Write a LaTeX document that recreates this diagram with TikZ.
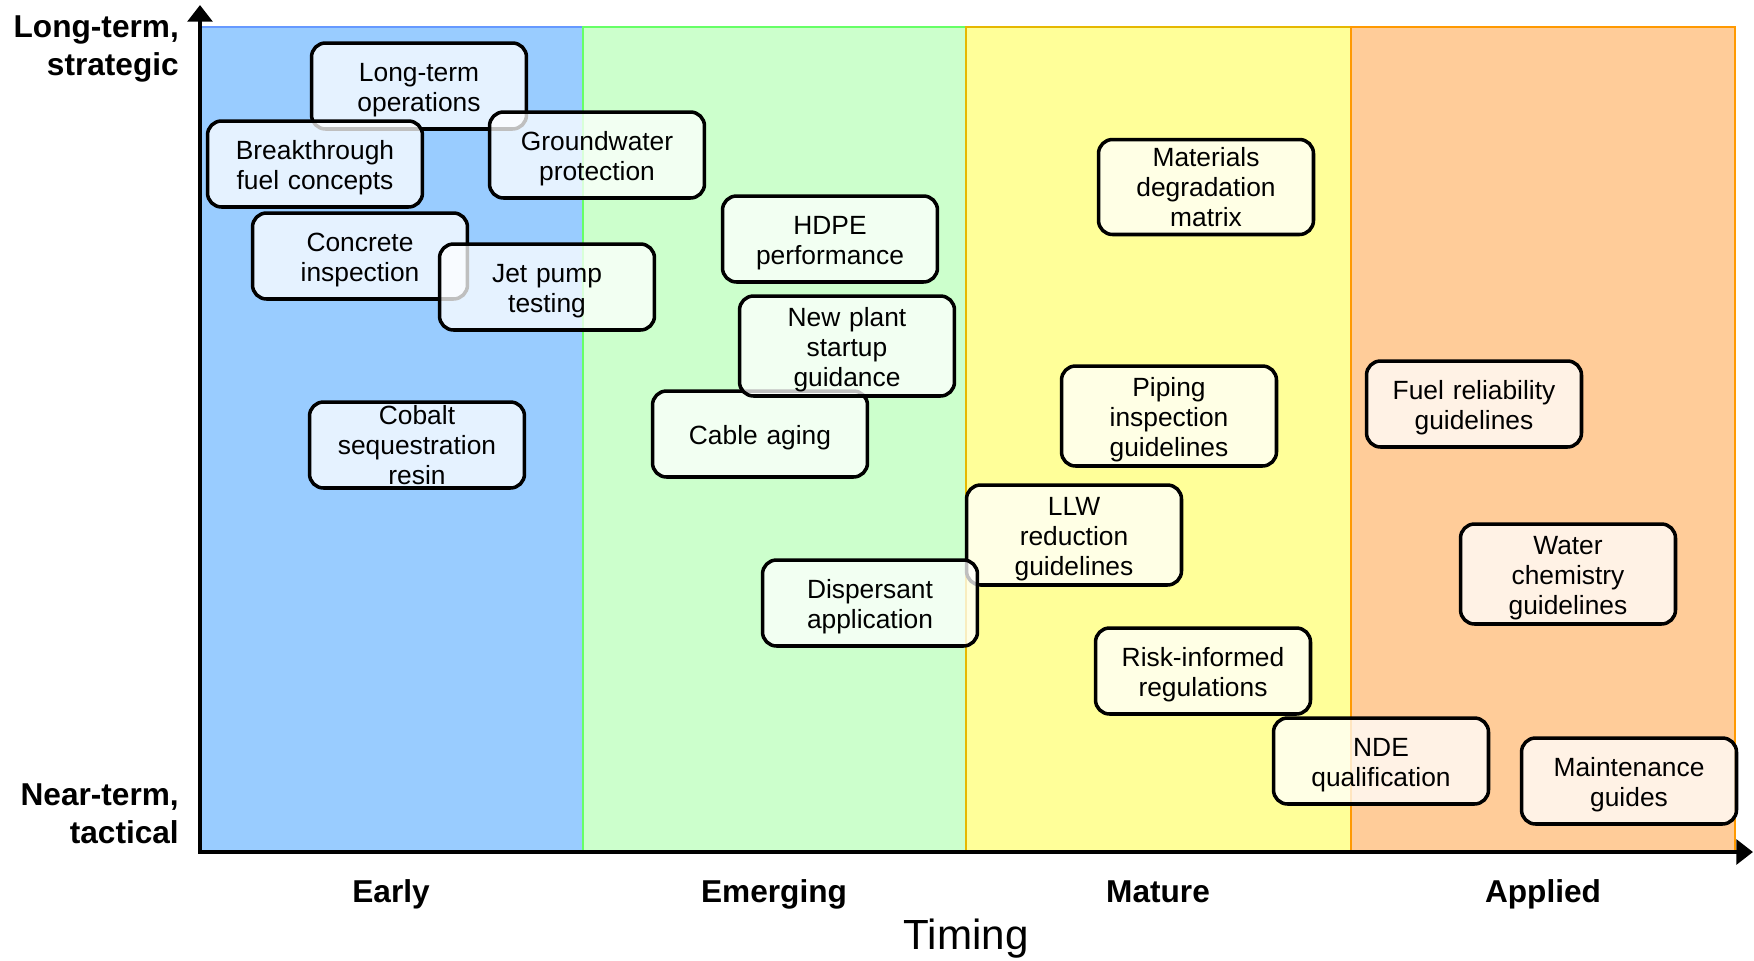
\documentclass[tikz,border=0pt]{standalone}
\usepackage{fontspec}
\setmainfont{Liberation Sans}
\usepackage{tikz}
\usetikzlibrary{arrows.meta}

\definecolor{earlyfill}{HTML}{99CCFF}
\definecolor{earlyline}{HTML}{6699FF}
\definecolor{emergfill}{HTML}{CCFFCC}
\definecolor{emergline}{HTML}{66FF66}
\definecolor{maturefill}{HTML}{FFFF99}
\definecolor{matureline}{HTML}{E6B800}
\definecolor{applfill}{HTML}{FFCC99}
\definecolor{applline}{HTML}{FF9900}

\begin{document}
\begin{tikzpicture}[x=0.02cm,y=-0.02cm,
  cardbase/.style={draw,line width=2pt,rounded corners=0.28cm,fill=white,fill opacity=0.75,
    text opacity=1,minimum width=4.3cm,minimum height=1.72cm,text width=4.2cm,
    align=center,inner sep=0pt,font=\fontsize{15}{17}\selectfont},
  item/.style={cardbase,execute at begin node={\rule{0pt}{15pt}}},
  tallitem/.style={item,minimum height=2cm},
  packeditem/.style={cardbase},
  axislabel/.style={font=\bfseries\fontsize{18}{21.5}\selectfont,align=right,anchor=east},
  phase/.style={font=\bfseries\fontsize{18}{21.5}\selectfont,anchor=base}]

  \useasboundingbox (0,0) rectangle (1754,960);

  % phase bands
  \draw [line width=1pt,draw=earlyline,fill=earlyfill] (200,27) rectangle (583,852);
  \draw [line width=1pt,draw=emergline,fill=emergfill] (583,27) rectangle (966,852);
  \draw [line width=1pt,draw=matureline,fill=maturefill] (966,27) rectangle (1351,852);
  \draw [line width=1pt,draw=applline,fill=applfill] (1351,27) rectangle (1735,852);

  % axes
  \coordinate (origin) at (200,852);
  \coordinate (ytop) at (200,5);
  \coordinate (xend) at (1753,852);
  \draw [line width=2.8pt,line join=miter,{Triangle[length=9.5pt,width=14pt]}-{Triangle[length=9.5pt,width=14pt]}] (ytop) -- (origin) -- (xend);

  \node [axislabel] (strategic) at (185,49) {Long-term,\\strategic};
  \node [axislabel] (tactical) at (185,814) {Near-term,\\tactical};

  \node [phase] (early) at (391,902) {Early};
  \node [phase] (emerging) at (774,902) {Emerging};
  \node [phase] (mature) at (1158,902) {Mature};
  \node [phase] (applied) at (1543,902) {Applied};
  \node [font=\fontsize{24}{28}\selectfont] (timing) at (966,939) {Timing};

  % early
  \node [item] (lto) at (419,86) {Long-term\\operations};
  \node [item] (fuel) at (315,164) {Breakthrough\\fuel concepts};
  \node [item] (groundwater) at (597,155) {Groundwater\\protection};
  \node [item] (concrete) at (360,256) {Concrete\\inspection};
  \node [item] (jetpump) at (547,287) {Jet pump\\testing};
  \node [packeditem] (cobalt) at (417,445) {Cobalt\\sequestration\\resin};

  % emerging
  \node [item] (hdpe) at (830,239) {HDPE\\performance};
  \node [item] (cable) at (760,434) {Cable aging};
  \node [tallitem] (newplant) at (847,346) {New plant\\startup\\guidance};
  \node [tallitem] (llw) at (1074,535) {LLW\\reduction\\guidelines};
  \node [item] (dispersant) at (870,603) {Dispersant\\application};

  % mature
  \node [packeditem,minimum height=1.9cm] (matrix) at (1206,187) {Materials\\degradation\\matrix};
  \node [tallitem] (piping) at (1169,416) {Piping\\inspection\\guidelines};
  \node [item] (risk) at (1203,671) {Risk-informed\\regulations};
  \node [item] (nde) at (1381,761) {NDE\\qualification};

  % applied
  \node [item] (reliability) at (1474,404) {Fuel reliability\\guidelines};
  \node [tallitem] (chemistry) at (1568,574) {Water\\chemistry\\guidelines};
  \node [item] (maintenance) at (1629,781) {Maintenance\\guides};

\end{tikzpicture}
\end{document}
